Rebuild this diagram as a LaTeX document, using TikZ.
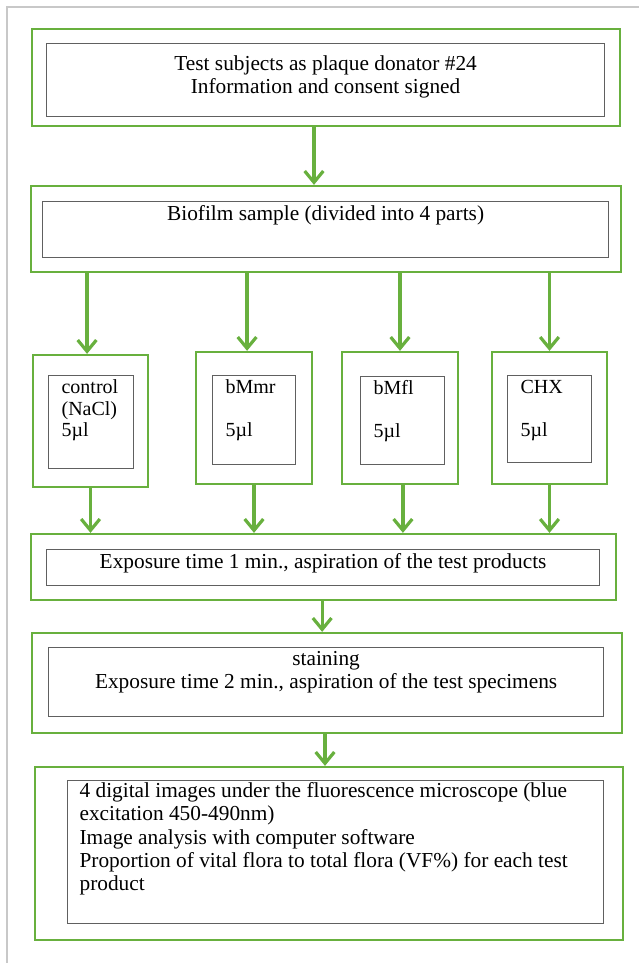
\documentclass[tikz,border=0pt]{standalone}
\usepackage{fontspec}
\setmainfont{Liberation Serif}
\usetikzlibrary{arrows.meta}

\definecolor{boxgreen}{RGB}{104,176,62}
\definecolor{boxgrey}{RGB}{96,96,96}
\definecolor{framegrey}{RGB}{200,200,200}

\newcommand{\bigtext}{\fontsize{16pt}{17.5pt}\selectfont}
\newcommand{\smalltext}{\fontsize{15pt}{16.1pt}\selectfont}

\tikzset{every picture/.style={line width=0.75pt}}
\tikzset{
  outerbox/.style={draw=boxgreen, line width=1.7pt, inner sep=0pt},
  innerbox/.style={draw=boxgrey, line width=0.9pt, inner sep=0pt, anchor=north west},
  flow/.style={draw=boxgreen, line width=2.4pt, -{Straight Barb[length=8.5pt,width=14pt]}},
}

\begin{document}
\begin{tikzpicture}[x=0.75pt,y=0.75pt,yscale=-1,xscale=1]
    \useasboundingbox (0,0) rectangle (639,963);
    
    % Frame
    \draw [framegrey][line width=1.2pt] (7,963) -- (7,7) -- (639,7) ;
    
    % Text Node
    \node [outerbox, minimum width=441pt, minimum height=72.75pt] (donor) at (326,77.5) {};
    \node [innerbox] (donortext) at (46,43) {\begin{minipage}[t][54.75pt][t]{418.5pt}\centering\bigtext
    \vspace*{7.9pt}\strut Test subjects as plaque donator \#24\\Information and consent signed
    \end{minipage}};
    % Text Node
    \node [outerbox, minimum width=442.5pt, minimum height=64.5pt] (sample) at (326,229) {};
    \node [innerbox] (sampletext) at (42,201) {\begin{minipage}[t][42pt][t]{424.5pt}\centering\bigtext
    \vspace*{1.9pt}\strut Biofilm sample (divided into 4 parts)
    \end{minipage}};
    
    % Text Node
    \node [outerbox, minimum width=86.25pt, minimum height=99pt] (ctrl) at (90.5,421) {};
    \node [innerbox] (ctrltext) at (48,375) {\begin{minipage}[t][69.75pt][t]{63.75pt}\raggedright\leftskip=9.75pt\smalltext
    \vspace*{2.2pt}\strut control\\(NaCl)\\5µl
    \end{minipage}};
    % Text Node
    \node [outerbox, minimum width=87pt, minimum height=99pt] (mmr) at (254,418) {};
    \node [innerbox] (mmrtext) at (212,375) {\begin{minipage}[t][66.75pt][t]{62.25pt}\raggedright\leftskip=9.75pt\smalltext
    \vspace*{2.2pt}\strut bMmr\\[\baselineskip]5µl
    \end{minipage}};
    % Text Node
    \node [outerbox, minimum width=87pt, minimum height=99pt] (mfl) at (400,418) {};
    \node [innerbox] (mfltext) at (360,376) {\begin{minipage}[t][66pt][t]{63pt}\raggedright\leftskip=9.75pt\smalltext
    \vspace*{2.2pt}\strut bMfl\\[\baselineskip]5µl
    \end{minipage}};
    % Text Node
    \node [outerbox, minimum width=86.25pt, minimum height=99pt] (chx) at (549.5,418) {};
    \node [innerbox] (chxtext) at (507,375) {\begin{minipage}[t][65.25pt][t]{63pt}\raggedright\leftskip=9.75pt\smalltext
    \vspace*{2.2pt}\strut CHX\\[\baselineskip]5µl
    \end{minipage}};
    
    % Text Node
    \node [outerbox, minimum width=438.75pt, minimum height=49.5pt] (exposure) at (323.5,567) {};
    \node [innerbox] (exposuretext) at (46,549) {\begin{minipage}[t][27pt][t]{414.75pt}\centering\bigtext
    \vspace*{1.9pt}\strut Exposure time 1 min., aspiration of the test products
    \end{minipage}};
    % Text Node
    \node [outerbox, minimum width=442.5pt, minimum height=75pt] (staining) at (327,683) {};
    \node [innerbox] (stainingtext) at (48,647) {\begin{minipage}[t][51.75pt][t]{416.25pt}\centering\bigtext
    \vspace*{1.2pt}\strut staining\\Exposure time 2 min., aspiration of the test specimens
    \end{minipage}};
    % Text Node
    \node [outerbox, minimum width=441pt, minimum height=129.75pt] (imaging) at (329,853.5) {};
    \node [innerbox] (imagingtext) at (67,780) {\begin{minipage}[t][107.25pt][t]{402pt}\raggedright\leftskip=9pt\bigtext
    \vspace*{0.4pt}\strut 4 digital images under the fluorescence microscope (blue\\excitation 450-490nm)\\Image analysis with computer software\\Proportion of vital flora to total flora (VF\%) for each test\\product
    \end{minipage}};
    
    % Connection
    \draw [flow] ([xshift=-9pt]donor.south) -- ([xshift=-9pt]donor.south |- sample.north) ;
    % Connection
    \draw [flow] ([xshift=-2.6pt]sample.south -| ctrl.north) -- ([xshift=-2.6pt]ctrl.north) ;
    \draw [flow] ([xshift=-5.2pt]sample.south -| mmr.north) -- ([xshift=-5.2pt]mmr.north) ;
    \draw [flow] (sample.south -| mfl.north) -- (mfl.north) ;
    \draw [flow] (sample.south -| chx.north) -- (chx.north) ;
    % Connection
    \draw [flow] (ctrl.south) -- (ctrl.south |- exposure.north) ;
    \draw [flow] (mmr.south) -- (mmr.south |- exposure.north) ;
    \draw [flow] ([xshift=2.2pt]mfl.south) -- ([xshift=2.2pt]mfl.south |- exposure.north) ;
    \draw [flow] (chx.south) -- (chx.south |- exposure.north) ;
    % Connection
    \draw [flow] ([xshift=-1pt]exposure.south) -- ([xshift=-1pt]exposure.south |- staining.north) ;
    % Connection
    \draw [flow] ([xshift=-1.5pt]staining.south) -- ([xshift=-1.5pt]staining.south |- imaging.north) ;
\end{tikzpicture}
\end{document}
